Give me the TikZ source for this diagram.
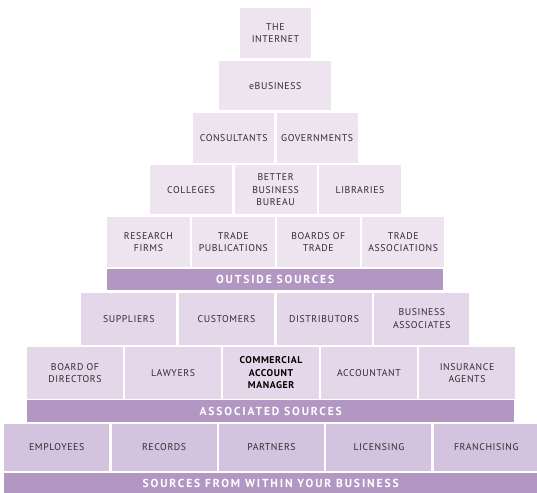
\documentclass[tikz,border=0pt]{standalone}
\usepackage{fontspec}
\setmainfont{PT Sans}[LetterSpace=6]
\usetikzlibrary{positioning}
\definecolor{pale}{HTML}{EEE4F0}
\definecolor{midpale}{HTML}{E4D7E9}
\definecolor{deeppale}{HTML}{D4C3DE}
\definecolor{banner}{HTML}{B197C2}
\definecolor{ink}{HTML}{332C31}

\begin{document}
\begin{tikzpicture}[x=1pt,y=-1pt,node distance=2pt]
%
% Styles
%
\tikzset{every node/.style={font=\fontsize{9.8}{12.5}\selectfont, text=ink}};%
\tikzset{cell/.style={fill=pale, inner sep=0pt, align=center, anchor=north west}};%
\tikzset{band/.style={cell, fill=banner, text=white, font=\fontsize{11.6}{12}\selectfont\bfseries\addfontfeatures{LetterSpace=16}}};%
\tikzset{row a/.style={cell, minimum width=81pt, minimum height=49.5pt}};%
\tikzset{row b/.style={cell, minimum width=82pt, minimum height=49pt}};%
\tikzset{row c/.style={cell, minimum width=82.5pt, minimum height=49.5pt}};%
\tikzset{row d/.style={cell, fill=midpale, minimum width=95.25pt, minimum height=52pt}};%
\tikzset{row e/.style={cell, fill=midpale, minimum width=95.6pt, minimum height=51.5pt}};%
\tikzset{row f/.style={cell, fill=deeppale, minimum width=105pt, minimum height=46.5pt}};%

\useasboundingbox (0,0) rectangle (537,492);%

%
% Outside sources
%
\node[cell, minimum width=70.5pt, minimum height=50pt] (internet) at (240,8) {THE\\INTERNET};%
\node[cell, minimum width=112pt, minimum height=49pt] (ebusiness) at (219,61) {eBUSINESS};%

\node[row a] (consultants) at (193,113) {CONSULTANTS};%
\node[row a, right=of consultants] (governments) {GOVERNMENTS};%

\node[row b] (colleges) at (150,165) {COLLEGES};%
\node[row b, right=of colleges] (bbb) {BETTER\\BUSINESS\\BUREAU};%
\node[row b, right=of bbb] (libraries) {LIBRARIES};%

\node[row c] (research) at (107,217) {RESEARCH\\FIRMS};%
\node[row c, right=of research] (tradepub) {TRADE\\PUBLICATIONS};%
\node[row c, right=of tradepub] (boards) {BOARDS OF\\TRADE};%
\node[row c, right=of boards] (tradeassoc) {TRADE\\ASSOCIATIONS};%

\node[band, minimum width=336pt, minimum height=21.5pt] (outside) at (107,268.5) {OUTSIDE SOURCES};%

%
% Associated sources
%
\node[row d] (suppliers) at (81,292.5) {SUPPLIERS};%
\node[row d, right=of suppliers] (customers) {CUSTOMERS};%
\node[row d, right=of customers] (distributors) {DISTRIBUTORS};%
\node[row d, right=of distributors] (busassoc) {BUSINESS\\ASSOCIATES};%

\node[row e] (board) at (27,347) {BOARD OF\\DIRECTORS};%
\node[row e, right=of board] (lawyers) {LAWYERS};%
\node[row e, right=of lawyers, text=black, font=\fontsize{9.8}{12.5}\selectfont\bfseries] (manager) {COMMERCIAL\\ACCOUNT\\MANAGER};%
\node[row e, right=of manager] (accountant) {ACCOUNTANT};%
\node[row e, right=of accountant] (insurance) {INSURANCE\\AGENTS};%

\node[band, minimum width=487pt, minimum height=22pt] (associated) at (27,400) {ASSOCIATED SOURCES};%

%
% Sources from within
%
\node[row f] (employees) at (4,424) {EMPLOYEES};%
\node[row f, right=of employees] (records) {RECORDS};%
\node[row f, right=of records] (partners) {PARTNERS};%
\node[row f, right=of partners] (licensing) {LICENSING};%
\node[row f, right=of licensing] (franchising) {FRANCHISING};%

\node[band, minimum width=533pt, minimum height=21pt, text depth=0pt] (within) at (4,472.5) {SOURCES FROM WITHIN YOUR BUSINESS};%
\end{tikzpicture}
\end{document}
